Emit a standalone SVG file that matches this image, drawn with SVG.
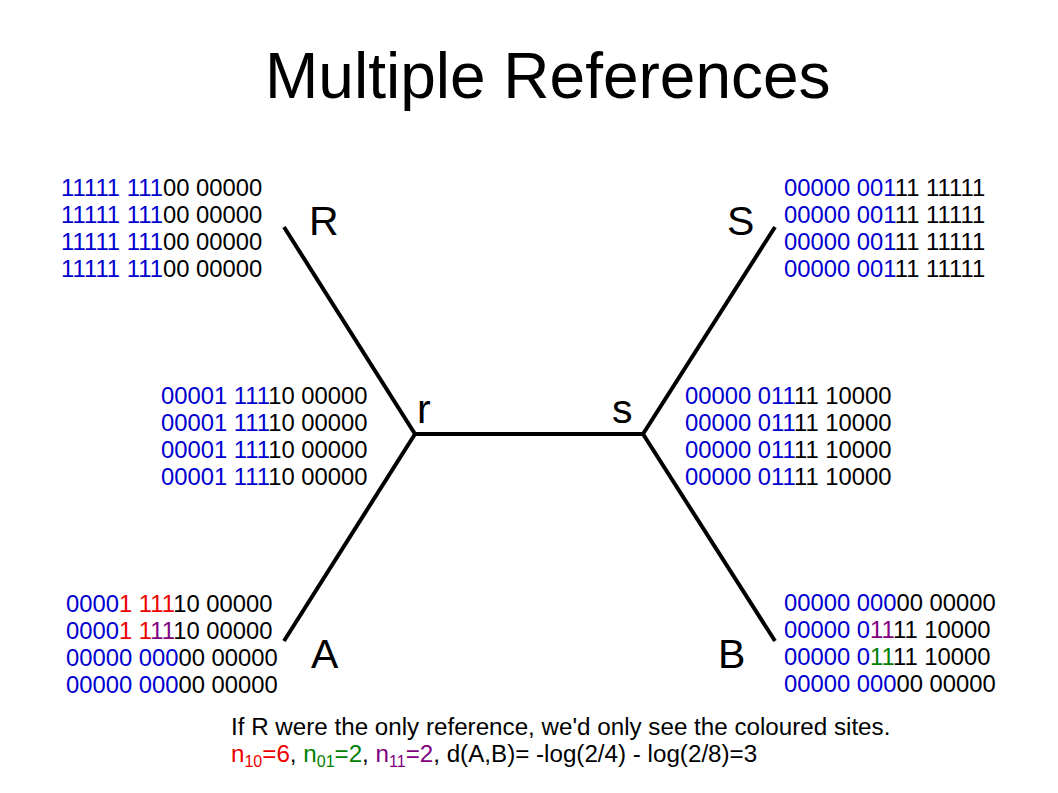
<svg xmlns="http://www.w3.org/2000/svg" width="1058" height="793" viewBox="0 0 1058 793">
<style>
text{font-family:"Liberation Sans",Arial,sans-serif;fill:#000}
.seq{font-size:23.8px}
.cap{font-size:24.2px}
.lbl{font-size:41px}
.b{fill:#0000D0}
.rd{fill:#EE0000}
.g{fill:#008000}
.p{fill:#800080}
.edge{stroke:#000;stroke-width:4;fill:none;stroke-linecap:butt}
</style>
<rect width="1058" height="793" fill="#fff"/>
<text x="265" y="98" font-size="64">Multiple References</text>
<g id="connectors">
<line class="edge" x1="284" y1="227" x2="415" y2="434"/>
<line class="edge" x1="415" y1="434" x2="643" y2="434"/>
<line class="edge" x1="643" y1="434" x2="775" y2="227"/>
<line class="edge" x1="415" y1="434" x2="284" y2="641"/>
<line class="edge" x1="643" y1="434" x2="775" y2="641"/>
</g>
<g id="node-R">
<text class="lbl" x="309" y="235">R</text>
<text class="seq" x="61" y="196"><tspan class="b">11111 111</tspan>00 00000</text>
<text class="seq" x="61" y="223"><tspan class="b">11111 111</tspan>00 00000</text>
<text class="seq" x="61" y="250"><tspan class="b">11111 111</tspan>00 00000</text>
<text class="seq" x="61" y="277"><tspan class="b">11111 111</tspan>00 00000</text>
</g>
<g id="node-S">
<text class="lbl" x="727" y="235">S</text>
<text class="seq" x="784" y="196"><tspan class="b">00000 001</tspan>11 11111</text>
<text class="seq" x="784" y="223"><tspan class="b">00000 001</tspan>11 11111</text>
<text class="seq" x="784" y="250"><tspan class="b">00000 001</tspan>11 11111</text>
<text class="seq" x="784" y="277"><tspan class="b">00000 001</tspan>11 11111</text>
</g>
<g id="node-r">
<text class="lbl" x="417" y="423">r</text>
<text class="seq" x="161" y="404"><tspan class="b">00001 111</tspan>10 00000</text>
<text class="seq" x="161" y="431"><tspan class="b">00001 111</tspan>10 00000</text>
<text class="seq" x="161" y="458"><tspan class="b">00001 111</tspan>10 00000</text>
<text class="seq" x="161" y="485"><tspan class="b">00001 111</tspan>10 00000</text>
</g>
<g id="node-s">
<text class="lbl" x="612" y="423">s</text>
<text class="seq" x="685" y="404"><tspan class="b">00000 011</tspan>11 10000</text>
<text class="seq" x="685" y="431"><tspan class="b">00000 011</tspan>11 10000</text>
<text class="seq" x="685" y="458"><tspan class="b">00000 011</tspan>11 10000</text>
<text class="seq" x="685" y="485"><tspan class="b">00000 011</tspan>11 10000</text>
</g>
<g id="node-A">
<text class="lbl" x="311" y="668">A</text>
<text class="seq" x="66" y="612"><tspan class="b">0000</tspan><tspan class="rd">1 111</tspan>10 00000</text>
<text class="seq" x="66" y="639"><tspan class="b">0000</tspan><tspan class="rd">1 1</tspan><tspan class="p">11</tspan>10 00000</text>
<text class="seq" x="66" y="666"><tspan class="b">00000 000</tspan>00 00000</text>
<text class="seq" x="66" y="693"><tspan class="b">00000 000</tspan>00 00000</text>
</g>
<g id="node-B">
<text class="lbl" x="718" y="668">B</text>
<text class="seq" x="784" y="611"><tspan class="b">00000 000</tspan>00 00000</text>
<text class="seq" x="784" y="638"><tspan class="b">00000 0</tspan><tspan class="p">11</tspan>11 10000</text>
<text class="seq" x="784" y="665"><tspan class="b">00000 0</tspan><tspan class="g">11</tspan>11 10000</text>
<text class="seq" x="784" y="692"><tspan class="b">00000 000</tspan>00 00000</text>
</g>
<g id="caption">
<text class="cap" x="231" y="735">If R were the only reference, we'd only see the coloured sites.</text>
<text class="cap" x="231" y="762"><tspan class="rd">n<tspan font-size="16" dy="5">10</tspan><tspan dy="-5">=6</tspan></tspan>, <tspan class="g">n<tspan font-size="16" dy="5">01</tspan><tspan dy="-5">=2</tspan></tspan>, <tspan class="p">n<tspan font-size="16" dy="5">11</tspan><tspan dy="-5">=2</tspan></tspan>, d(A,B)= -log(2/4) - log(2/8)=3</text>
</g>
</svg>
